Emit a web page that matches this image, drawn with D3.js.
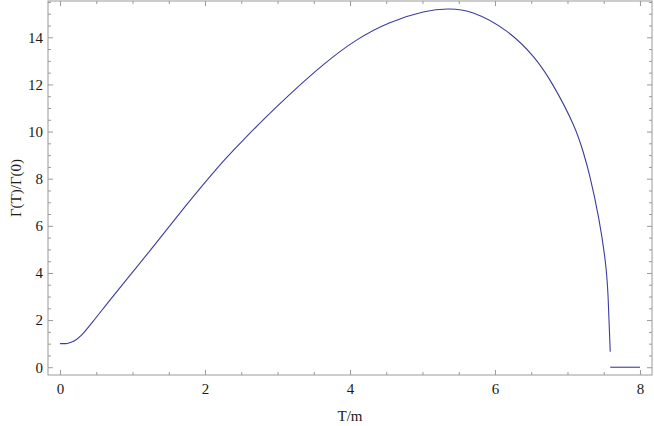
<!DOCTYPE html>
<html>
<head>
<meta charset="utf-8">
<script src="https://cdn.jsdelivr.net/npm/d3@7"></script>
<style>
  body { margin: 0; background: #fff; }
  svg { display: block; }
  .axis line { stroke: #9a9a9a; }
  svg text { font-family: "Liberation Serif", "Times New Roman", serif !important; font-size: 15px !important; fill: #1a1a1a; }
  .curve { fill: none; stroke: #3c3c9e; stroke-width: 1.1; }
</style>
</head>
<body>
<svg id="chart" width="654" height="426"></svg>
<script>
/* ---------- data ---------- */
const tVals = [0, 0.05, 0.10, 0.20, 0.30, 0.40, 0.62, 0.85, 1.25, 1.70, 2.16, 2.50, 2.82, 3.17,
  3.63, 4.09, 4.55, 5.01, 5.35, 5.70, 6.16, 6.53, 6.80, 7.08, 7.22, 7.31, 7.43, 7.52, 7.56, 7.59];
const gammaVals = [1.00, 1.00, 1.01, 1.12, 1.37, 1.73, 2.58, 3.46, 4.98, 6.72, 8.42, 9.55, 10.55, 11.58,
  12.83, 13.88, 14.62, 15.07, 15.20, 15.03, 14.26, 13.18, 11.97, 10.30, 9.10, 8.08, 6.34, 4.54, 3.00, 0.66];
const tailT = [7.59, 8];
const tailGamma = [0, 0];

const xMajor = [0, 2, 4, 6, 8];
const yMajor = [0, 2, 4, 6, 8, 10, 12, 14];

const svg = d3.select("#chart");
const margin = { top: 1, right: 2, bottom: 51, left: 48 };
const W = 654 - margin.left - margin.right;
const H = 426 - margin.top - margin.bottom;

const g = svg.append("g").attr("transform", `translate(${margin.left},${margin.top})`);

const x = d3.scaleLinear().domain([-0.166, 8.166]).range([0, W]);
const y = d3.scaleLinear().domain([-0.33, 15.54]).range([H, 0]);

const xMinor = d3.range(0, 8.01, 0.5).filter(v => !xMajor.includes(v));
const yMinor = d3.range(0, 15.51, 0.5).filter(v => !yMajor.includes(v));

/* ---------- frame ---------- */
g.append("rect").attr("width", W).attr("height", H)
  .attr("fill", "none").attr("stroke", "#9a9a9a");

function tidy(sel) { sel.select("path.domain").remove(); }

// bottom
g.append("g").attr("class", "axis").attr("transform", `translate(0,${H})`)
  .call(d3.axisBottom(x).tickValues(xMajor).tickSize(-5).tickPadding(8).tickFormat(d3.format("d")))
  .call(tidy);
g.append("g").attr("class", "axis").attr("transform", `translate(0,${H})`)
  .call(d3.axisBottom(x).tickValues(xMinor).tickSize(-3).tickFormat("")).call(tidy);
// top
g.append("g").attr("class", "axis")
  .call(d3.axisTop(x).tickValues(xMajor).tickSize(-5).tickFormat("")).call(tidy);
g.append("g").attr("class", "axis")
  .call(d3.axisTop(x).tickValues(xMinor).tickSize(-3).tickFormat("")).call(tidy);
// left
g.append("g").attr("class", "axis")
  .call(d3.axisLeft(y).tickValues(yMajor).tickSize(-5).tickPadding(5).tickFormat(d3.format("d")))
  .call(tidy);
g.append("g").attr("class", "axis")
  .call(d3.axisLeft(y).tickValues(yMinor).tickSize(-3).tickFormat("")).call(tidy);
// right
g.append("g").attr("class", "axis").attr("transform", `translate(${W},0)`)
  .call(d3.axisRight(y).tickValues(yMajor).tickSize(-5).tickFormat("")).call(tidy);
g.append("g").attr("class", "axis").attr("transform", `translate(${W},0)`)
  .call(d3.axisRight(y).tickValues(yMinor).tickSize(-3).tickFormat("")).call(tidy);

/* ---------- labels ---------- */
g.append("text")
  .attr("x", x(4)).attr("y", H + 46).attr("text-anchor", "middle")
  .text("T/m");

g.append("text")
  .attr("transform", "rotate(-90)").attr("x", -H / 2).attr("y", -27)
  .attr("text-anchor", "middle").text("Γ(T)/Γ(0)");

/* ---------- curves ---------- */
const line = d3.line().x(d => x(d[0])).y(d => y(d[1])).curve(d3.curveNatural);

g.append("path").attr("class", "curve")
  .datum(d3.zip(tVals, gammaVals))
  .attr("d", line);

g.append("path").attr("class", "curve")
  .datum(d3.zip(tailT, tailGamma))
  .attr("d", line);
</script>
</body>
</html>
